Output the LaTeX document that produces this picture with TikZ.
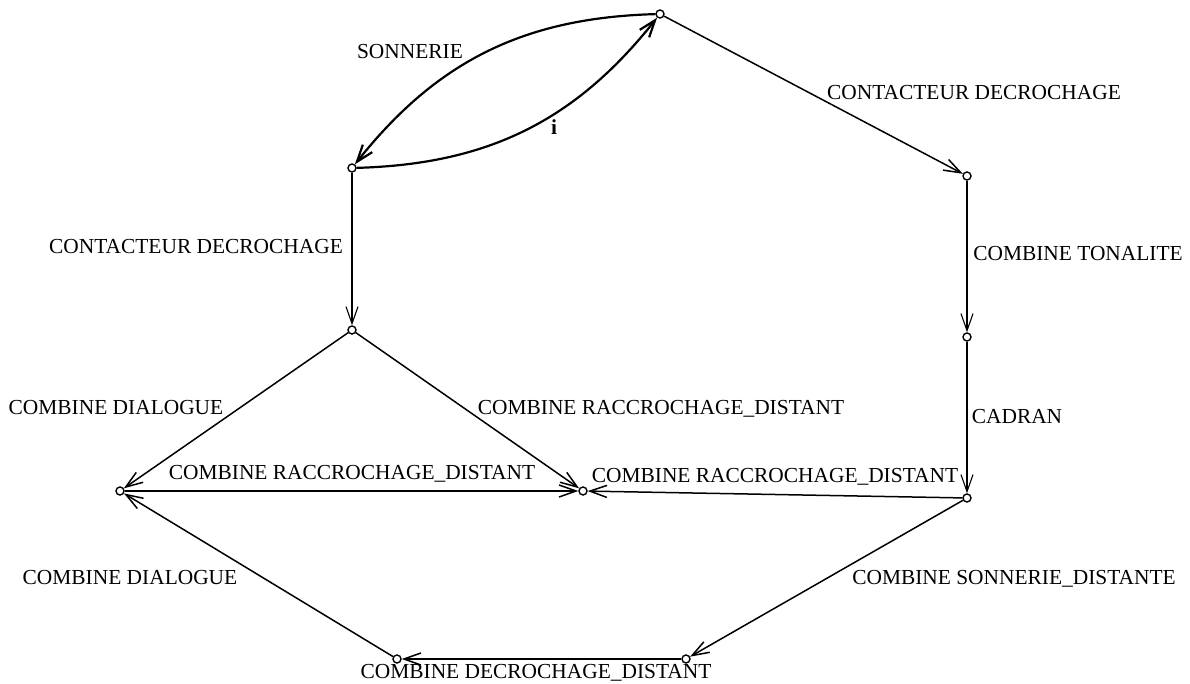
\documentclass[tikz,border=0pt]{standalone}
\usepackage{fontspec}
\setmainfont{Liberation Serif}
\usetikzlibrary{arrows.meta, positioning}
\usepackage{xcolor}

\begin{document}
\begin{tikzpicture}[
x=0.5pt, y=-0.5pt,
state/.style={draw,
circle,
fill=white,
line width=0.7pt,
inner sep=0pt,
minimum size=4pt},
lbl/.style={anchor=base,
inner sep=0pt,
font=\fontsize{10.7pt}{13pt}\selectfont},
arrow/.style={-{Straight Barb[length=8.5pt, width=6pt]}, line width=0.75pt}
]

\useasboundingbox (0,0) rectangle (1190,684);

\node[state] (s0) at (660,14) {};
\node[state] (s1) at (352,168) {};
\node[state] (s2) at (967,176) {};
\node[state] (s3) at (352,330) {};
\node[state] (s4) at (967,337) {};
\node[state] (s5) at (120,491) {};
\node[state] (s6) at (583,491) {};
\node[state] (s7) at (967,498) {};
\node[state] (s8) at (397,659) {};
\node[state] (s9) at (686,659) {};

\node[lbl] (t0) at (410,59) {SONNERIE};
\node[lbl] (t1) at (554,135) {\textbf{i}};
\node[lbl] (t2) at (974,100) {CONTACTEUR DECROCHAGE};
\node[lbl] (t3) at (196,254) {CONTACTEUR DECROCHAGE};
\node[lbl] (t4) at (1078,261) {COMBINE TONALITE};
\node[lbl] (t5) at (1017,424) {CADRAN};
\node[lbl] (t6) at (116,415) {COMBINE DIALOGUE};
\node[lbl] (t7) at (661,415) {COMBINE RACCROCHAGE\textunderscore DISTANT};
\node[lbl] (t8) at (352,480) {COMBINE RACCROCHAGE\textunderscore DISTANT};
\node[lbl] (t9) at (775,482) {COMBINE RACCROCHAGE\textunderscore DISTANT};
\node[lbl] (t10) at (130,584) {COMBINE DIALOGUE};
\node[lbl] (t11) at (1014,584) {COMBINE SONNERIE\textunderscore DISTANTE};
\node[lbl] (t12) at (536,678) {COMBINE DECROCHAGE\textunderscore DISTANT};

\draw[arrow, line width=1.1pt] (s0) to[bend right=25] (s1);
\draw[arrow, line width=1.1pt] (s1) to[bend right=25] (s0);
\draw[arrow] (s0) -- (s2);
\draw[arrow, line width=0.55pt] (s1) -- (s3);
\draw[arrow, line width=0.55pt] (s2) -- (s4);
\draw[arrow] (s3) -- (s5);
\draw[arrow] (s3) -- (s6);
\draw[arrow, line width=0.55pt] (s4) -- (s7);
\draw[arrow] (s5) -- (s6);
\draw[arrow] (s7) -- (s6);
\draw[arrow] (s7) -- (s9);
\draw[arrow] (s9) -- (s8);
\draw[arrow] (s8) -- (s5);

\end{tikzpicture}
\end{document}
